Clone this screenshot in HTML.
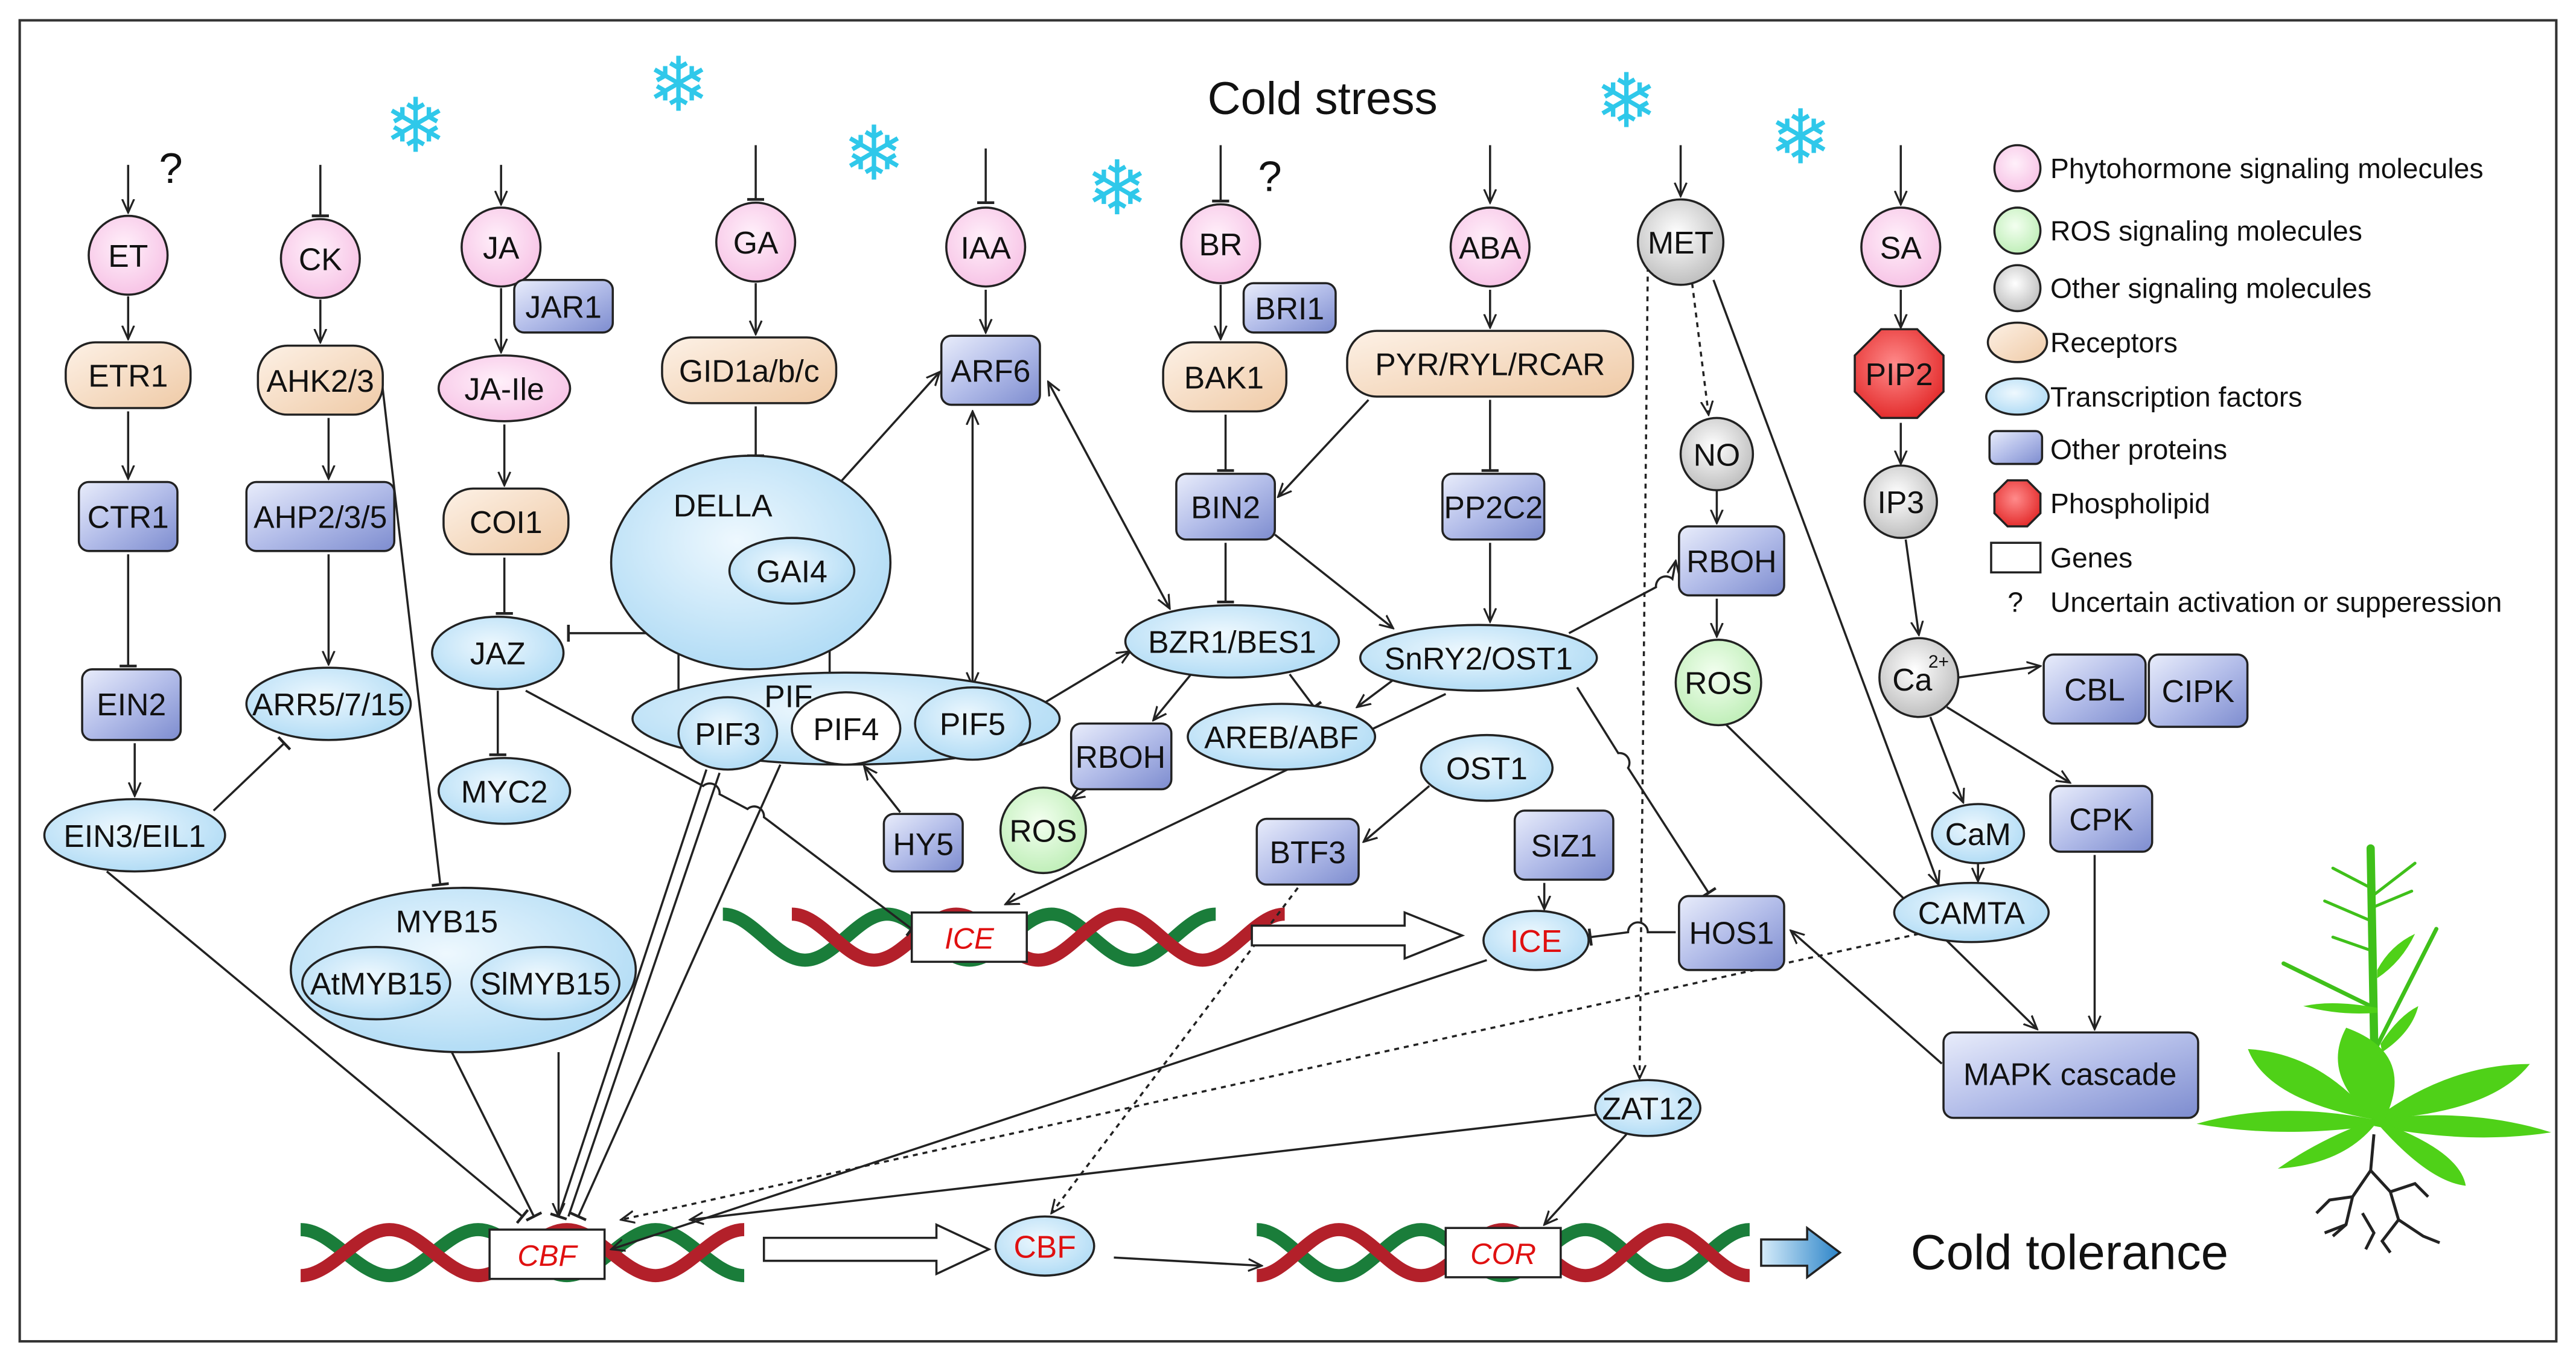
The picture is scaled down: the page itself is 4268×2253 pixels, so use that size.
<!DOCTYPE html>
<html><head><meta charset="utf-8"><style>
html,body{margin:0;padding:0;background:#fff;}
svg{display:block;}
text{font-family:"Liberation Sans",Arial,sans-serif;fill:#111;}
</style></head><body>
<svg width="4268" height="2253" viewBox="0 0 1568 827" xmlns="http://www.w3.org/2000/svg">
<defs>
<linearGradient id="gb" x1="0" y1="0" x2="1" y2="1"><stop offset="0" stop-color="#e9edfb"/><stop offset="0.5" stop-color="#b3bde9"/><stop offset="1" stop-color="#7d8ccf"/></linearGradient>
<radialGradient id="gl" cx="0.45" cy="0.4" r="0.7"><stop offset="0" stop-color="#eef8fe"/><stop offset="1" stop-color="#a9d8f4"/></radialGradient>
<radialGradient id="gp" cx="0.45" cy="0.4" r="0.7"><stop offset="0" stop-color="#fff0fa"/><stop offset="1" stop-color="#f6bde3"/></radialGradient>
<radialGradient id="gg" cx="0.45" cy="0.4" r="0.7"><stop offset="0" stop-color="#ffffff"/><stop offset="1" stop-color="#b5b5b5"/></radialGradient>
<radialGradient id="ggr" cx="0.45" cy="0.4" r="0.7"><stop offset="0" stop-color="#f3fff0"/><stop offset="1" stop-color="#b8ecb0"/></radialGradient>
<linearGradient id="gbe" x1="0" y1="0" x2="1" y2="1"><stop offset="0" stop-color="#fdf1e6"/><stop offset="1" stop-color="#efcaa6"/></linearGradient>
<radialGradient id="gr" cx="0.45" cy="0.4" r="0.7"><stop offset="0" stop-color="#ff8b8b"/><stop offset="1" stop-color="#e02020"/></radialGradient>
<linearGradient id="gblue" x1="0" y1="0" x2="1" y2="0"><stop offset="0" stop-color="#d6ecfa"/><stop offset="1" stop-color="#2c84c8"/></linearGradient>
<marker id="a" viewBox="0 0 10 10" refX="9" refY="5" markerWidth="7" markerHeight="7" orient="auto-start-reverse"><path d="M0,1 L9,5 L0,9" fill="none" stroke="#222" stroke-width="1.3"/></marker>
<marker id="t" viewBox="0 0 10 10" refX="5" refY="5" markerWidth="8" markerHeight="8" orient="auto"><path d="M5,0 L5,10" stroke="#222" stroke-width="1.6"/></marker>
</defs>
<rect x="12" y="12" width="1544" height="804" fill="none" stroke="#333" stroke-width="1.5"/>
<text x="805" y="69" font-size="28" text-anchor="middle">Cold stress</text>
<g font-size="46" text-anchor="middle">
<text x="253" y="92" style="fill:#2fc8ea">❄</text><text x="413" y="67" style="fill:#2fc8ea">❄</text><text x="532" y="109" style="fill:#2fc8ea">❄</text><text x="680" y="130" style="fill:#2fc8ea">❄</text><text x="990" y="77" style="fill:#2fc8ea">❄</text><text x="1096" y="99" style="fill:#2fc8ea">❄</text>
</g>
<text x="104" y="111" font-size="26" text-anchor="middle">?</text>
<text x="773" y="116" font-size="26" text-anchor="middle">?</text>

<!-- DNA -->
<g fill="none" stroke-width="8">
<path d="M440,556 c18,0 32,28 50,28 s32,-28 50,-28 s32,28 50,28 s32,-28 50,-28 s32,28 50,28 s32,-28 50,-28" stroke="#1a7d3a"/>
<path d="M482,556 c18,0 32,28 50,28 s32,-28 50,-28 s32,28 50,28 s32,-28 50,-28 s32,28 50,28 s32,-28 50,-28" stroke="#b3202a"/>
<path d="M183,748 c19,0 35,28 54,28 s35,-28 54,-28 s35,28 54,28 s35,-28 54,-28 s35,28 54,28" stroke="#1a7d3a"/>
<path d="M183,776 c19,0 35,-28 54,-28 s35,28 54,28 s35,-28 54,-28 s35,28 54,28 s35,-28 54,-28" stroke="#b3202a"/>
<path d="M765,748 c18,0 32,28 50,28 s32,-28 50,-28 s32,28 50,28 s32,-28 50,-28 s32,28 50,28 s32,-28 50,-28" stroke="#1a7d3a"/>
<path d="M765,776 c18,0 32,-28 50,-28 s32,28 50,28 s32,-28 50,-28 s32,28 50,28 s32,-28 50,-28 s32,28 50,28" stroke="#b3202a"/>
</g>

<!-- connectors -->
<g stroke="#222" stroke-width="1.3" fill="none">
<line x1="78" y1="100" x2="78" y2="129" marker-end="url(#a)"/>
<line x1="78" y1="180" x2="78" y2="206" marker-end="url(#a)"/>
<line x1="78" y1="250" x2="78" y2="291" marker-end="url(#a)"/>
<line x1="78" y1="337" x2="78" y2="405" marker-end="url(#t)"/>
<line x1="82" y1="452" x2="82" y2="484" marker-end="url(#a)"/>
<line x1="130" y1="493" x2="173" y2="452" marker-end="url(#t)"/>
<line x1="65" y1="530" x2="318" y2="740" marker-end="url(#t)"/>
<line x1="195" y1="100" x2="195" y2="131" marker-end="url(#t)"/>
<line x1="195" y1="182" x2="195" y2="208" marker-end="url(#a)"/>
<line x1="200" y1="254" x2="200" y2="291" marker-end="url(#a)"/>
<line x1="200" y1="337" x2="200" y2="404" marker-end="url(#a)"/>
<line x1="232" y1="228" x2="268" y2="538" marker-end="url(#t)"/>
<line x1="305" y1="100" x2="305" y2="124" marker-end="url(#a)"/>
<line x1="305" y1="175" x2="305" y2="214" marker-end="url(#a)"/>
<line x1="307" y1="258" x2="307" y2="295" marker-end="url(#a)"/>
<line x1="307" y1="339" x2="307" y2="373" marker-end="url(#t)"/>
<line x1="303" y1="420" x2="303" y2="459" marker-end="url(#t)"/>
<path d="M320,420 L428,478 a6,6 0 0 1 10,5 L455,492 a6,6 0 0 1 10,5 L555,565" marker-end="url(#t)"/>
<line x1="412" y1="385" x2="346" y2="385" marker-end="url(#t)"/>
<line x1="413" y1="385" x2="413" y2="432" marker-end="url(#a)"/>
<line x1="460" y1="88" x2="460" y2="121" marker-end="url(#t)"/>
<line x1="460" y1="172" x2="460" y2="203" marker-end="url(#a)"/>
<line x1="460" y1="247" x2="460" y2="277" marker-end="url(#t)"/>
<line x1="508" y1="297" x2="572" y2="226" marker-end="url(#a)"/>
<line x1="600" y1="90" x2="600" y2="123" marker-end="url(#t)"/>
<line x1="600" y1="176" x2="600" y2="202" marker-end="url(#a)"/>
<line x1="592" y1="250" x2="592" y2="417" marker-end="url(#a)" marker-start="url(#a)"/>
<line x1="638" y1="232" x2="712" y2="370" marker-end="url(#a)" marker-start="url(#a)"/>
<line x1="505" y1="421" x2="505" y2="369" marker-end="url(#a)"/>
<line x1="548" y1="494" x2="526" y2="466" marker-end="url(#a)"/>
<line x1="623" y1="435" x2="688" y2="396" marker-end="url(#a)" marker-start="url(#a)"/>
<line x1="725" y1="410" x2="702" y2="438" marker-end="url(#a)"/>
<line x1="664" y1="478" x2="652" y2="486" marker-end="url(#a)"/>
<line x1="785" y1="410" x2="800" y2="430" marker-end="url(#t)"/>
<line x1="743" y1="88" x2="743" y2="122" marker-end="url(#t)"/>
<line x1="743" y1="173" x2="743" y2="206" marker-end="url(#a)"/>
<line x1="746" y1="252" x2="746" y2="286" marker-end="url(#t)"/>
<line x1="746" y1="330" x2="746" y2="366" marker-end="url(#t)"/>
<line x1="776" y1="325" x2="848" y2="382" marker-end="url(#a)"/>
<line x1="833" y1="243" x2="778" y2="302" marker-end="url(#a)"/>
<line x1="907" y1="88" x2="907" y2="123" marker-end="url(#a)"/>
<line x1="907" y1="176" x2="907" y2="199" marker-end="url(#a)"/>
<line x1="907" y1="243" x2="907" y2="286" marker-end="url(#t)"/>
<line x1="907" y1="330" x2="907" y2="378" marker-end="url(#a)"/>
<line x1="850" y1="412" x2="826" y2="430" marker-end="url(#a)"/>
<path d="M955,385 L1008,357 a6,6 0 0 1 10,-5 L1020,341" marker-end="url(#a)"/>
<path d="M960,418 L985,458 a6,6 0 0 1 6,9 L1040,543" marker-end="url(#t)"/>
<line x1="880" y1="422" x2="612" y2="550" marker-end="url(#a)"/>
<line x1="870" y1="478" x2="830" y2="512" marker-end="url(#a)"/>
<line x1="790" y1="540" x2="640" y2="738" stroke-dasharray="3,3" marker-end="url(#a)"/>
<line x1="940" y1="537" x2="940" y2="553" marker-end="url(#a)"/>
<path d="M1020,567 L1003,567 a6,6 0 0 0 -12,0 L968,570" marker-end="url(#t)"/>
<line x1="905" y1="584" x2="372" y2="760" marker-end="url(#a)"/>
<line x1="1023" y1="88" x2="1023" y2="119" marker-end="url(#a)"/>
<line x1="1030" y1="172" x2="1040" y2="252" stroke-dasharray="3,3" marker-end="url(#a)"/>
<line x1="1003" y1="162" x2="998" y2="656" stroke-dasharray="3,3" marker-end="url(#a)"/>
<line x1="1043" y1="170" x2="1180" y2="538" marker-end="url(#a)"/>
<line x1="1045" y1="298" x2="1045" y2="318" marker-end="url(#a)"/>
<line x1="1045" y1="364" x2="1045" y2="387" marker-end="url(#a)"/>
<line x1="1050" y1="440" x2="1240" y2="626" marker-end="url(#a)"/>
<line x1="1168" y1="568" x2="378" y2="742" stroke-dasharray="3,3" marker-end="url(#a)"/>
<line x1="1182" y1="647" x2="1090" y2="566" marker-end="url(#a)"/>
<line x1="972" y1="678" x2="420" y2="742" marker-end="url(#a)"/>
<line x1="990" y1="690" x2="940" y2="745" marker-end="url(#a)"/>
<line x1="1157" y1="88" x2="1157" y2="124" marker-end="url(#a)"/>
<line x1="1157" y1="176" x2="1157" y2="199" marker-end="url(#a)"/>
<line x1="1157" y1="257" x2="1157" y2="282" marker-end="url(#a)"/>
<line x1="1160" y1="328" x2="1168" y2="386" marker-end="url(#a)"/>
<line x1="1192" y1="412" x2="1242" y2="405" marker-end="url(#a)"/>
<line x1="1185" y1="430" x2="1260" y2="476" marker-end="url(#a)"/>
<line x1="1175" y1="436" x2="1195" y2="488" marker-end="url(#a)"/>
<line x1="1204" y1="525" x2="1204" y2="536" marker-end="url(#a)"/>
<line x1="1275" y1="520" x2="1275" y2="626" marker-end="url(#a)"/>
<line x1="430" y1="468" x2="340" y2="740" marker-end="url(#t)"/>
<line x1="438" y1="470" x2="346" y2="740" />
<line x1="475" y1="465" x2="352" y2="740" marker-end="url(#t)"/>
<line x1="265" y1="620" x2="325" y2="740" marker-end="url(#t)"/>
<line x1="340" y1="640" x2="340" y2="740" marker-end="url(#a)"/>
<line x1="678" y1="765" x2="768" y2="770" marker-end="url(#a)"/>
</g>

<g stroke="#222" stroke-width="1.3" fill="#fff">
<rect x="555" y="555" width="70" height="30"/><rect x="298" y="748" width="70" height="30"/><rect x="880" y="747" width="70" height="30"/>
<path d="M762,563 L855,563 L855,555 L890,569 L855,583 L855,575 L762,575 Z"/>
<path d="M465,753 L570,753 L570,745 L602,760 L570,775 L570,767 L465,767 Z"/>
<path d="M1072,754 L1100,754 L1100,747 L1120,762 L1100,777 L1100,770 L1072,770 Z" fill="url(#gblue)"/>
</g>
<g font-size="18" font-style="italic" text-anchor="middle">
<text x="590" y="577" style="fill:#e01010">ICE</text><text x="333" y="770" style="fill:#e01010">CBF</text><text x="915" y="769" style="fill:#e01010">COR</text>
</g>
<text x="1163" y="772" font-size="30">Cold tolerance</text>

<!-- nodes -->
<g stroke="#222" stroke-width="1.3" font-size="18">
<circle cx="78" cy="155" r="24" fill="url(#gp)"/>
<rect x="40" y="208" width="76" height="40" rx="18" fill="url(#gbe)"/>
<rect x="48" y="293" width="60" height="42" rx="6" fill="url(#gb)"/>
<rect x="50" y="407" width="60" height="43" rx="6" fill="url(#gb)"/>
<ellipse cx="82" cy="508" rx="55" ry="22" fill="url(#gl)"/>
<circle cx="195" cy="157" r="24" fill="url(#gp)"/>
<rect x="157" y="210" width="76" height="42" rx="18" fill="url(#gbe)"/>
<rect x="150" y="293" width="90" height="42" rx="6" fill="url(#gb)"/>
<ellipse cx="200" cy="428" rx="50" ry="22" fill="url(#gl)"/>
<circle cx="305" cy="150" r="24" fill="url(#gp)"/>
<rect x="313" y="170" width="60" height="32" rx="6" fill="url(#gb)"/>
<ellipse cx="307" cy="236" rx="40" ry="20" fill="url(#gp)"/>
<rect x="270" y="297" width="76" height="40" rx="18" fill="url(#gbe)"/>
<ellipse cx="303" cy="397" rx="40" ry="22" fill="url(#gl)"/>
<ellipse cx="307" cy="481" rx="40" ry="20" fill="url(#gl)"/>
<circle cx="460" cy="147" r="24" fill="url(#gp)"/>
<rect x="403" y="205" width="106" height="40" rx="18" fill="url(#gbe)"/>
<ellipse cx="457" cy="342" rx="85" ry="65" fill="url(#gl)"/>
<ellipse cx="482" cy="347" rx="38" ry="20" fill="url(#gl)"/>
<ellipse cx="515" cy="437" rx="130" ry="28" fill="url(#gl)"/>
<ellipse cx="443" cy="446" rx="30" ry="22" fill="url(#gl)"/>
<ellipse cx="515" cy="443" rx="33" ry="22" fill="#fff"/>
<ellipse cx="592" cy="440" rx="35" ry="22" fill="url(#gl)"/>
<circle cx="600" cy="150" r="24" fill="url(#gp)"/>
<rect x="573" y="204" width="60" height="42" rx="6" fill="url(#gb)"/>
<circle cx="743" cy="148" r="24" fill="url(#gp)"/>
<rect x="757" y="172" width="56" height="30" rx="6" fill="url(#gb)"/>
<rect x="708" y="208" width="75" height="42" rx="18" fill="url(#gbe)"/>
<rect x="716" y="288" width="60" height="40" rx="6" fill="url(#gb)"/>
<ellipse cx="750" cy="390" rx="65" ry="22" fill="url(#gl)"/>
<ellipse cx="780" cy="448" rx="57" ry="20" fill="url(#gl)"/>
<rect x="652" y="440" width="61" height="40" rx="6" fill="url(#gb)"/>
<circle cx="635" cy="505" r="26" fill="url(#ggr)"/>
<rect x="538" y="495" width="48" height="35" rx="6" fill="url(#gb)"/>
<circle cx="907" cy="150" r="24" fill="url(#gp)"/>
<rect x="820" y="201" width="174" height="40" rx="18" fill="url(#gbe)"/>
<rect x="878" y="288" width="62" height="40" rx="6" fill="url(#gb)"/>
<ellipse cx="900" cy="400" rx="72" ry="20" fill="url(#gl)"/>
<ellipse cx="905" cy="467" rx="40" ry="20" fill="url(#gl)"/>
<rect x="765" y="498" width="62" height="40" rx="6" fill="url(#gb)"/>
<rect x="922" y="493" width="60" height="42" rx="6" fill="url(#gb)"/>
<ellipse cx="935" cy="572" rx="32" ry="18" fill="url(#gl)"/>
<rect x="1022" y="545" width="64" height="45" rx="6" fill="url(#gb)"/>
<circle cx="1023" cy="147" r="26" fill="url(#gg)"/>
<circle cx="1045" cy="276" r="22" fill="url(#gg)"/>
<rect x="1022" y="320" width="64" height="42" rx="6" fill="url(#gb)"/>
<circle cx="1046" cy="415" r="26" fill="url(#ggr)"/>
<circle cx="1157" cy="150" r="24" fill="url(#gp)"/>
<polygon points="1145,200 1167,200 1183,216 1183,238 1167,254 1145,254 1129,238 1129,216" fill="url(#gr)"/>
<circle cx="1157" cy="305" r="22" fill="url(#gg)"/>
<circle cx="1168" cy="412" r="24" fill="url(#gg)"/>
<rect x="1244" y="398" width="62" height="42" rx="6" fill="url(#gb)"/>
<rect x="1308" y="398" width="60" height="44" rx="6" fill="url(#gb)"/>
<ellipse cx="1204" cy="507" rx="28" ry="18" fill="url(#gl)"/>
<rect x="1248" y="478" width="62" height="40" rx="6" fill="url(#gb)"/>
<ellipse cx="1200" cy="555" rx="47" ry="18" fill="url(#gl)"/>
<rect x="1183" y="628" width="155" height="52" rx="6" fill="url(#gb)"/>
<ellipse cx="1003" cy="674" rx="32" ry="17" fill="url(#gl)"/>
<ellipse cx="282" cy="590" rx="105" ry="50" fill="url(#gl)"/>
<ellipse cx="229" cy="598" rx="45" ry="22" fill="url(#gl)"/>
<ellipse cx="332" cy="598" rx="45" ry="22" fill="url(#gl)"/>
<ellipse cx="636" cy="758" rx="30" ry="18" fill="url(#gl)"/>
</g>
<g font-size="19" text-anchor="middle">
<text x="78" y="162">ET</text><text x="78" y="235">ETR1</text><text x="78" y="321">CTR1</text><text x="80" y="435">EIN2</text><text x="82" y="515">EIN3/EIL1</text>
<text x="195" y="164">CK</text><text x="195" y="238">AHK2/3</text><text x="195" y="321">AHP2/3/5</text><text x="200" y="435">ARR5/7/15</text>
<text x="305" y="157">JA</text><text x="343" y="193">JAR1</text><text x="307" y="243">JA-Ile</text><text x="308" y="324">COI1</text><text x="303" y="404">JAZ</text><text x="307" y="488">MYC2</text>
<text x="460" y="154">GA</text><text x="456" y="232">GID1a/b/c</text><text x="440" y="314">DELLA</text><text x="482" y="354">GAI4</text><text x="480" y="430">PIF</text>
<text x="443" y="453">PIF3</text><text x="515" y="450">PIF4</text><text x="592" y="447">PIF5</text>
<text x="600" y="157">IAA</text><text x="603" y="232">ARF6</text>
<text x="743" y="155">BR</text><text x="785" y="194">BRI1</text><text x="745" y="236">BAK1</text><text x="746" y="315">BIN2</text><text x="750" y="397">BZR1/BES1</text><text x="780" y="455">AREB/ABF</text>
<text x="682" y="467">RBOH</text><text x="635" y="512">ROS</text><text x="562" y="520">HY5</text>
<text x="907" y="157">ABA</text><text x="907" y="228">PYR/RYL/RCAR</text><text x="909" y="315">PP2C2</text><text x="900" y="407">SnRY2/OST1</text><text x="905" y="474">OST1</text>
<text x="796" y="525">BTF3</text><text x="952" y="521">SIZ1</text><text x="935" y="579" style="fill:#e01010">ICE</text><text x="1054" y="574">HOS1</text>
<text x="1023" y="154">MET</text><text x="1045" y="283">NO</text><text x="1054" y="348">RBOH</text><text x="1046" y="422">ROS</text>
<text x="1157" y="157">SA</text><text x="1156" y="234">PIP2</text><text x="1157" y="312">IP3</text><text x="1164" y="420">Ca</text><text x="1180" y="406" font-size="11">2+</text>
<text x="1275" y="426">CBL</text><text x="1338" y="427">CIPK</text><text x="1204" y="514">CaM</text><text x="1279" y="505">CPK</text><text x="1200" y="562">CAMTA</text>
<text x="1260" y="660">MAPK cascade</text><text x="1003" y="681">ZAT12</text>
<text x="272" y="567">MYB15</text><text x="229" y="605">AtMYB15</text><text x="332" y="605">SlMYB15</text>
<text x="636" y="765" style="fill:#e01010">CBF</text>
</g>

<!-- legend -->
<g stroke="#222" stroke-width="1.3">
<circle cx="1228" cy="102" r="14" fill="url(#gp)"/>
<circle cx="1228" cy="140" r="14" fill="url(#ggr)"/>
<circle cx="1228" cy="175" r="14" fill="url(#gg)"/>
<ellipse cx="1228" cy="208" rx="18" ry="12" fill="url(#gbe)"/>
<ellipse cx="1228" cy="241" rx="19" ry="11" fill="url(#gl)"/>
<rect x="1211" y="262" width="32" height="20" rx="4" fill="url(#gb)"/>
<polygon points="1222,292 1234,292 1242,300 1242,312 1234,320 1222,320 1214,312 1214,300" fill="url(#gr)"/>
<rect x="1212" y="330" width="30" height="18" fill="#fff"/>
</g>
<g font-size="17">
<text x="1248" y="108">Phytohormone signaling molecules</text>
<text x="1248" y="146">ROS signaling molecules</text>
<text x="1248" y="181">Other signaling molecules</text>
<text x="1248" y="214">Receptors</text>
<text x="1248" y="247">Transcription factors</text>
<text x="1248" y="279">Other proteins</text>
<text x="1248" y="312">Phospholipid</text>
<text x="1248" y="345">Genes</text>
<text x="1222" y="372">?</text><text x="1248" y="372">Uncertain activation or supperession</text>
</g>

<!-- plant -->
<g>
<g stroke="#222" stroke-width="1.8" fill="none">
<path d="M1445,690 L1443,712 L1432,728 L1428,745 L1420,752"/>
<path d="M1443,712 L1455,725 L1460,742 L1475,752 L1485,756"/>
<path d="M1432,728 L1418,730 L1410,738"/>
<path d="M1438,738 L1445,750 L1440,760"/>
<path d="M1455,725 L1470,720 L1478,728"/>
<path d="M1428,745 L1415,750"/>
<path d="M1460,742 L1450,755 L1455,762"/>
</g>
<g stroke="#3fc01a" fill="none" stroke-linecap="round">
<path d="M1446,682 L1443,516" stroke-width="5"/>
<path d="M1443,612 L1390,586" stroke-width="2.5"/>
<path d="M1447,636 L1483,565" stroke-width="2.5"/>
<path d="M1443,540 L1420,528 M1444,545 L1470,525 M1443,560 L1415,548 M1444,552 L1468,542 M1443,578 L1420,570" stroke-width="1.8"/>
</g>
<g fill="#4fd118">
<path d="M1447,613 Q1420,608 1402,612 Q1425,618 1447,616 Z"/>
<path d="M1447,590 Q1455,575 1470,568 Q1462,585 1447,595 Z"/>
<path d="M1449,635 Q1460,618 1472,612 Q1468,628 1450,640 Z"/>
</g>
<g fill="#4fd118" transform="translate(1445,681) scale(1.3) translate(-1445,-681)">
<path d="M1445,681 Q1400,672 1362,683 Q1400,690 1445,684 Z"/>
<path d="M1445,681 Q1490,675 1528,687 Q1490,693 1445,684 Z"/>
<path d="M1445,681 Q1420,650 1386,648 Q1395,672 1445,681 Z"/>
<path d="M1445,681 Q1480,655 1518,655 Q1500,678 1445,681 Z"/>
<path d="M1445,681 Q1420,660 1432,638 Q1465,650 1450,681 Z"/>
<path d="M1445,681 Q1420,690 1400,704 Q1430,702 1445,684 Z"/>
<path d="M1445,681 Q1470,710 1488,712 Q1485,695 1445,681 Z"/>
</g>
</g>
</svg>
</body></html>
